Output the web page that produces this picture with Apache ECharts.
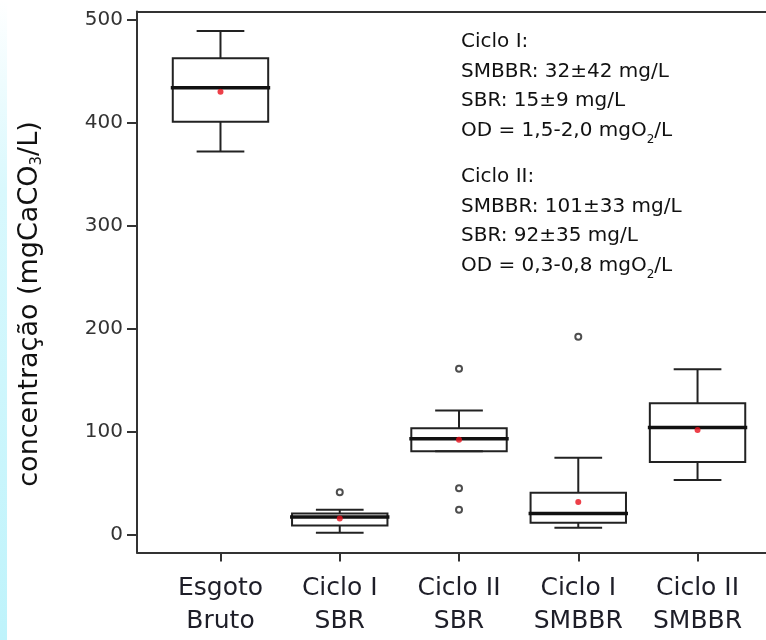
<!DOCTYPE html>
<html>
<head>
<meta charset="utf-8">
<script src="https://cdn.jsdelivr.net/npm/echarts@6/dist/echarts.min.js"></script>
<style>
	html,body{margin:0;padding:0;background:#fff;}
	#chart{width:766px;height:640px;}
</style>
</head>
<body>
<div id="chart"></div>
<script>
// box positions 1..5 on the x axis
var categories = ['Esgoto\nBruto', 'Ciclo I\nSBR', 'Ciclo II\nSBR', 'Ciclo I\nSMBBR', 'Ciclo II\nSMBBR'];
var whiskerLow = [372, 1.7, 80.8, 6.5, 53];
var q1 = [401, 8.7, 80.8, 11.5, 70.5];
var median = [434, 17, 93, 20.5, 104];
var q3 = [462.5, 20.5, 103.2, 40.5, 127.5];
var whiskerHigh = [489, 24, 120.5, 74.5, 160.5];
var means = [430, 15.5, 92, 31.5, 101.6];
// [position, value]
var outliers = [[2, 41], [3, 161], [3, 45], [3, 24], [4, 192]];
var yTicks = [0, 100, 200, 300, 400, 500];
var xTicks = [1, 2, 3, 4, 5];

var myChart = echarts.init(document.getElementById('chart'));

var boxData = [];
var meanData = [];
for(let i = 0; i < categories.length; i++){
	boxData.push([i + 1, whiskerLow[i], q1[i], median[i], q3[i], whiskerHigh[i]]);
	meanData.push([i + 1, means[i]]);
}

function renderBox(params, api){
	var x = api.value(0);
	var pLow = api.coord([x, api.value(1)]);
	var pQ1 = api.coord([x, api.value(2)]);
	var pMed = api.coord([x, api.value(3)]);
	var pQ3 = api.coord([x, api.value(4)]);
	var pHigh = api.coord([x, api.value(5)]);
	var half = api.coord([x + 0.4, 0])[0] - pMed[0];
	var cap = half / 2;
	var cx = pMed[0];
	var line = {stroke: '#222', lineWidth: 2};
	return {
		type: 'group',
		children: [
			{type: 'line', shape: {x1: cx, y1: pHigh[1], x2: cx, y2: pQ3[1]}, style: line},
			{type: 'line', shape: {x1: cx, y1: pQ1[1], x2: cx, y2: pLow[1]}, style: line},
			{type: 'line', shape: {x1: cx - cap, y1: pHigh[1], x2: cx + cap, y2: pHigh[1]}, style: line},
			{type: 'line', shape: {x1: cx - cap, y1: pLow[1], x2: cx + cap, y2: pLow[1]}, style: line},
			{type: 'rect', shape: {x: cx - half, y: pQ3[1], width: half * 2, height: pQ1[1] - pQ3[1]},
				style: {fill: 'none', stroke: '#222', lineWidth: 2}},
			{type: 'line', shape: {x1: cx - half - 2, y1: pMed[1], x2: cx + half + 2, y2: pMed[1]},
				style: {stroke: '#111', lineWidth: 3.5}}
		]
	};
}

// the plot region runs past the right edge of the picture, so the axis ends at 5.574
var option = {
	backgroundColor: '#fff',
	animation: false,
	grid: {
		left: 137,
		right: 0,
		top: 11.5,
		bottom: 87.5
	},
	graphic: [
		{
			type: 'rect',
			left: 0,
			top: 0,
			z: -10,
			shape: {width: 7, height: 640},
			style: {
				fill: new echarts.graphic.LinearGradient(0, 0, 0, 1, [
					{offset: 0, color: 'rgba(200,245,252,0)'},
					{offset: 0.3, color: 'rgba(200,245,252,0.7)'},
					{offset: 1, color: 'rgba(190,243,251,1)'}
				])
			}
		},
		{
			type: 'text',
			x: 30,
			y: 304,
			rotation: Math.PI / 2,
			style: {
				text: '{m|concentração (mgCaCO}{sub|3}{m|/L)}',
				align: 'center',
				verticalAlign: 'middle',
				fill: '#111',
				rich: {
					m: {fontFamily: 'DejaVu Sans', fontSize: 27, lineHeight: 30, color: '#111'},
					sub: {fontFamily: 'DejaVu Sans', fontSize: 15, lineHeight: 27, verticalAlign: 'bottom', color: '#111'}
				}
			}
		},
		{
			type: 'text',
			x: 461,
			y: 27,
			style: {
				text: 'Ciclo I:\nSMBBR: 32±42 mg/L\nSBR: 15±9 mg/L\nOD = 1,5-2,0 mgO{sub|2}/L',
				fontFamily: 'DejaVu Sans',
				fontSize: 20,
				lineHeight: 29.7,
				fill: '#111',
				rich: {
					sub: {fontFamily: 'DejaVu Sans', fontSize: 12, lineHeight: 20, verticalAlign: 'bottom', color: '#111'}
				}
			}
		},
		{
			type: 'text',
			x: 461,
			y: 162,
			style: {
				text: 'Ciclo II:\nSMBBR: 101±33 mg/L\nSBR: 92±35 mg/L\nOD = 0,3-0,8 mgO{sub|2}/L',
				fontFamily: 'DejaVu Sans',
				fontSize: 20,
				lineHeight: 29.7,
				fill: '#111',
				rich: {
					sub: {fontFamily: 'DejaVu Sans', fontSize: 12, lineHeight: 20, verticalAlign: 'bottom', color: '#111'}
				}
			}
		}
	],
	xAxis: [
		{
			type: 'value',
			min: 0.3,
			max: 5.574,
			splitLine: {show: false},
			axisLine: {show: true, onZero: false, lineStyle: {color: '#333', width: 2}},
			axisTick: {
				show: true,
				customValues: xTicks,
				length: 9,
				lineStyle: {color: '#333', width: 2}
			},
			axisLabel: {
				customValues: xTicks,
				margin: 19,
				fontFamily: 'DejaVu Sans',
				fontSize: 25,
				lineHeight: 33,
				color: '#1e1e28',
				formatter: function(v){
					return categories[Math.round(v) - 1] || '';
				}
			}
		},
		{
			// top frame line only
			type: 'value',
			position: 'top',
			min: 0.3,
			max: 5.574,
			splitLine: {show: false},
			axisLine: {show: true, onZero: false, lineStyle: {color: '#333', width: 2}},
			axisTick: {show: false},
			axisLabel: {show: false}
		}
	],
	yAxis: {
		type: 'value',
		min: -17.5,
		max: 508,
		splitLine: {show: false},
		axisLine: {show: true, onZero: false, lineStyle: {color: '#333', width: 2}},
		axisTick: {
			show: true,
			customValues: yTicks,
			length: 10,
			lineStyle: {color: '#333', width: 2}
		},
		axisLabel: {
			customValues: yTicks,
			margin: 14,
			fontFamily: 'DejaVu Sans',
			fontSize: 20,
			color: '#333'
		}
	},
	series: [
		{
			type: 'custom',
			renderItem: renderBox,
			encode: {x: 0, y: [1, 2, 3, 4, 5]},
			data: boxData,
			z: 2
		},
		{
			type: 'scatter',
			symbol: 'circle',
			symbolSize: 6,
			itemStyle: {color: '#fff', borderColor: '#222', borderWidth: 2},
			data: outliers,
			z: 3
		},
		{
			type: 'scatter',
			symbol: 'circle',
			symbolSize: 6,
			itemStyle: {color: '#e8101c'},
			data: meanData,
			z: 4
		}
	]
};
myChart.setOption(option);
</script>
</body>
</html>
